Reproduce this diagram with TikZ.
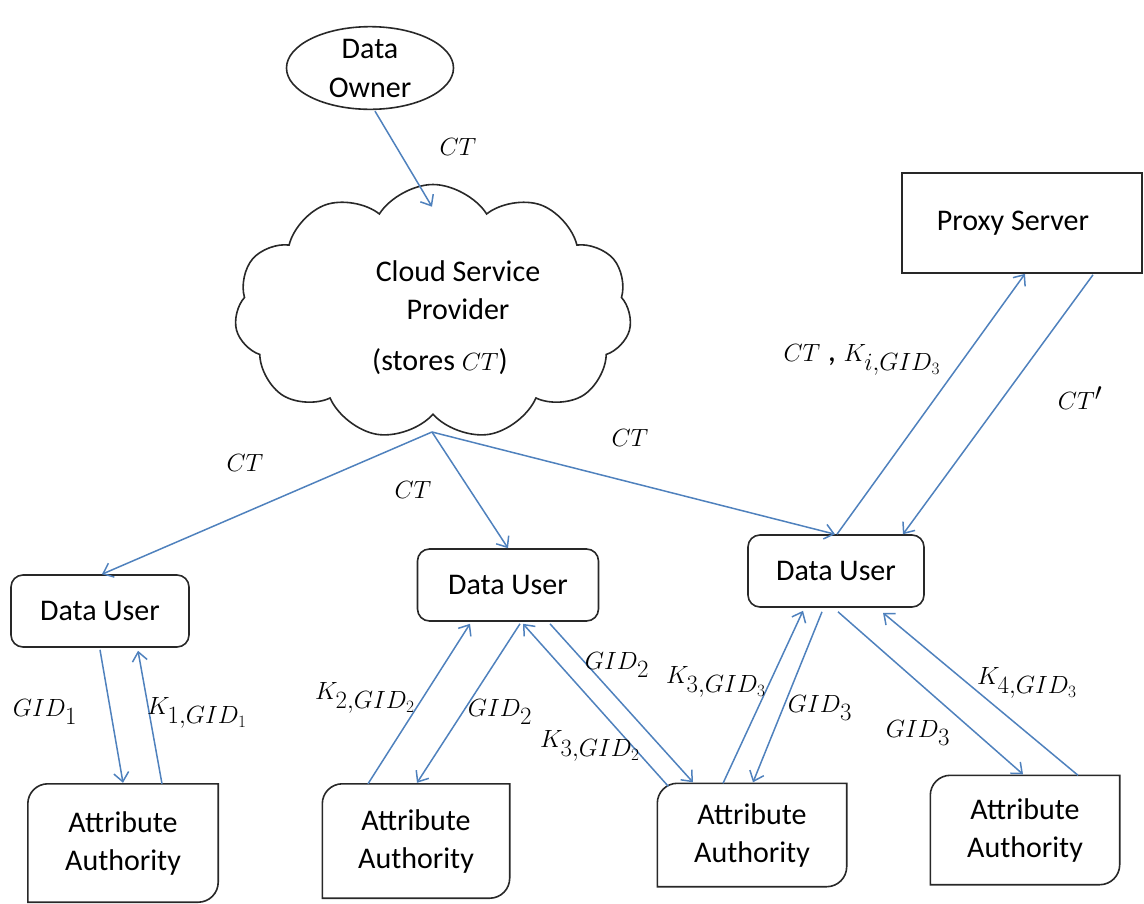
\documentclass[tikz,border=0pt]{standalone}
\usepackage{fontspec}
\setmainfont{Carlito}
\usetikzlibrary{arrows.meta,shapes.geometric,shapes.symbols,calc}
\definecolor{arrowblue}{RGB}{79,129,189}
\definecolor{shapegray}{RGB}{40,40,40}
\newcommand\aabox[5]{%
  \node[aa, minimum width=#4, minimum height=#5] (#1) at (#2,#3) {Attribute\\Authority};
  \draw[shapeline] (#1.south west) -- ([yshift=-20pt]#1.north west)
    arc[start angle=180,end angle=90,radius=20pt] -- (#1.north east)
    -- ([yshift=20pt]#1.south east)
    arc[start angle=0,end angle=-90,radius=20pt] -- cycle;}
\begin{document}
\begin{tikzpicture}[x=1pt,y=-1pt,
  every node/.style={font=\fontsize{30}{38}\selectfont},
  shapeline/.style={draw=shapegray,line width=1.6pt},
  dubox/.style={shapeline,rounded corners=12pt,minimum width=178,minimum height=72},
  aa/.style={align=center,inner sep=0pt},
  flow/.style={draw=arrowblue,line width=1.5pt,-{Straight Barb[length=9pt,width=15pt]}},
  lbl/.style={inner sep=1pt,font=\fontsize{33}{40}\selectfont}]
\useasboundingbox (0,0) rectangle (1144,903);

% nodes
\node[ellipse,shapeline,minimum width=167,minimum height=76,align=center,inner sep=0pt,
  font=\fontsize{30}{39}\selectfont] (owner) at (370,68) {Data\\Owner};
\node[cloud,shapeline,cloud puffs=11,cloud puff arc=115,aspect=1.6,
  minimum width=397,minimum height=255] (cloud) at (433,312) {};
\node[align=center,inner sep=0pt] (cloudtxt) at (458,290) {Cloud Service\\Provider};
\node[inner sep=0pt] (stores) at (440,362) {(stores {\fontsize{32}{38}\selectfont$CT$})};
\node[shapeline,minimum width=240,minimum height=100] (proxy) at (1022,223) {Proxy Server\hspace*{18pt}};

\node[dubox] (du1) at (100,611) {Data User};
\node[dubox,minimum width=181] (du2) at (508,585) {Data User};
\node[dubox,minimum width=176] (du3) at (836,571) {Data User};

\aabox{aa1}{123}{843}{190}{118}
\aabox{aa2}{416}{841}{187}{114}
\aabox{aa3}{752}{835}{189}{103}
\aabox{aa4}{1025}{830}{189}{109}

\coordinate (cb) at ($(cloud.center)+(-1,120)$);

% connectors
\draw[flow] ($(owner.south)+(5,1)$) -- ($(cloud.north)+(-1,23)$);
\node[lbl] (lct0) at (458,147) {$CT$};

\draw[flow] (cb) -- ($(du1.north)+(2,0)$);
\node[lbl] (lct1) at (245,463) {$CT$};
\draw[flow] (cb) -- ($(du2.north)+(0,0)$);
\node[lbl] (lct2) at (413,490) {$CT$};
\draw[flow] (cb) -- ($(du3.north)+(-1,0)$);
\node[lbl] (lct3) at (630,438) {$CT$};

\draw[flow] ($(du3.north)+(1,0)$) -- ($(proxy.south)+(3,0)$);
\draw[flow] ($(proxy.south)+(71,1)$) -- ($(du3.north)+(67,0)$);
\node[lbl] (lproxy1) at (862,360) {$CT$ , $K_{i,GID_3}$};
\node[lbl] (lproxy2) at (1080,398) {$CT'$};

\draw[flow] ($(du1.south)+(0,2)$) -- ($(aa1.north)+(0,-1)$);
\draw[flow] ($(aa1.north)+(39,0)$) -- ($(du1.south)+(38,3)$);
\node[lbl] (l11) at (45,712) {$GID_1$};
\node[lbl] (l12) at (197,713) {$K_{1,GID_1}$};

\draw[flow] ($(aa2.north)+(-48,0)$) -- ($(du2.south)+(-38,2)$);
\draw[flow] ($(du2.south)+(12,2)$) -- ($(aa2.north)+(1,-1)$);
\node[lbl] (l21) at (365,698) {$K_{2,GID_2}$};
\node[lbl] (l22) at (500,712) {$GID_2$};

\draw[flow] ($(aa3.north west)+(11,3)$) -- ($(du2.south)+(15,2)$);
\draw[flow] ($(du2.south)+(42,2)$) -- ($(aa3.north)+(-59,-1)$);
\node[lbl] (l31) at (617,665) {$GID_2$};
\node[lbl] (l32) at (590,746) {$K_{3,GID_2}$};

\draw[flow] ($(aa3.north)+(-29,0)$) -- ($(du3.south)+(-33,3)$);
\draw[flow] ($(du3.south)+(-14,4)$) -- ($(aa3.north)+(1,-1)$);
\node[lbl] (l41) at (716,682) {$K_{3,GID_3}$};
\node[lbl] (l42) at (820,708) {$GID_3$};

\draw[flow] ($(du3.south)+(2,4)$) -- ($(aa4.north)+(-2,-1)$);
\draw[flow] ($(aa4.north)+(53,0)$) -- ($(du3.south)+(47,5)$);
\node[lbl] (l51) at (918,733) {$GID_3$};
\node[lbl] (l52) at (1027,683) {$K_{4,GID_3}$};
\end{tikzpicture}
\end{document}
